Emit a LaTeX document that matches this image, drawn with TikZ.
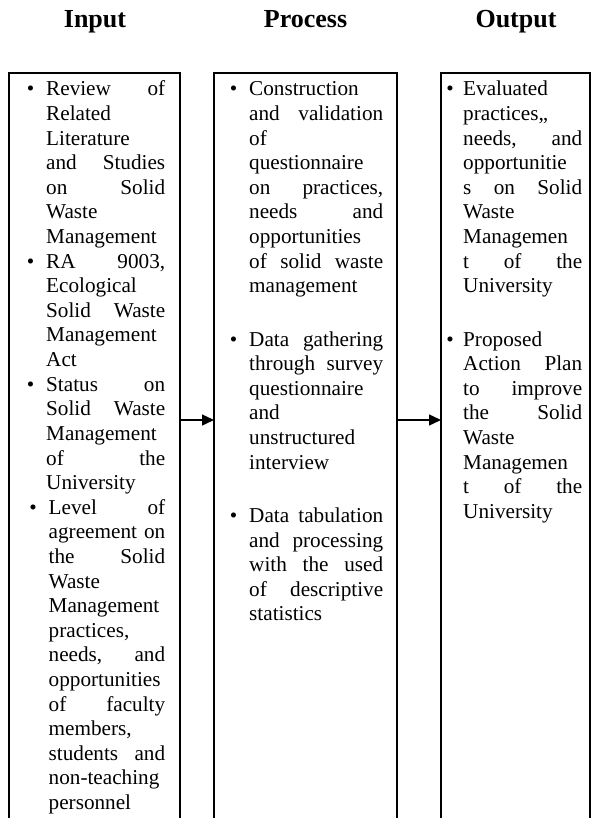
\documentclass[tikz,border=0pt]{standalone}
\usepackage{fontspec}
\setmainfont{Liberation Serif}
\usetikzlibrary{arrows.meta}
\newcommand\jline[1]{\hbox to\cw{#1}}
\newcommand\lline[1]{\hbox to\cw{#1\hfil}}
\newcommand\bul{\llap{\textbullet\hskip\bgap}}
\def\bgap{12pt}
\newcommand\pgap{\vskip 28.7pt}
\tikzset{
  colbox/.style={draw, line width=1.9pt, outer sep=0pt, inner sep=0pt, anchor=north west},
  headtxt/.style={font=\fontsize{26pt}{30pt}\selectfont\bfseries, anchor=base, inner sep=0pt},
  bodytxt/.style={font=\fontsize{21.2pt}{24.6pt}\selectfont, anchor=base west, inner sep=0pt},
  flowarrow/.style={line width=1.4pt, -{Triangle[length=12pt,width=11pt]}}
}
\begin{document}
\begin{tikzpicture}[x=1pt,y=-1pt]
\useasboundingbox (0,0) rectangle (595,818);
% headings
\node[headtxt] (hin) at (95,28) {Input};
\node[headtxt] (hproc) at (305.5,28) {Process};
\node[headtxt] (hout) at (516,28) {Output};
% boxes (open at the bottom: they run past the page)
\node[colbox, minimum width=171pt, minimum height=760pt] (b1) at (9,73) {};
\node[colbox, minimum width=183pt, minimum height=760pt] (b2) at (214,73) {};
\node[colbox, minimum width=149pt, minimum height=760pt] (b3) at (441,73) {};
% input text
\node[bodytxt, text width=119pt] (t1) at (46,96) {\def\cw{119pt}%
\jline{\bul Review\hfill of}
\lline{Related}
\lline{Literature}
\jline{and\hfill Studies}
\jline{on\hfill Solid}
\lline{Waste}
\lline{Management}
\jline{\bul RA\hfill 9003,}
\lline{Ecological}
\jline{Solid\hfill Waste}
\lline{Management}
\lline{Act}
\jline{\bul Status\hfill on}
\jline{Solid\hfill Waste}
\lline{Management}
\jline{of\hfill the}
\lline{University}};
\node[bodytxt, text width=116.5pt] (t1b) at (48.5,514.2) {\def\cw{116.5pt}%
\jline{\bul Level\hfill of}
\jline{agreement\hfill on}
\jline{the\hfill Solid}
\lline{Waste}
\lline{Management}
\lline{practices,}
\jline{needs,\hfill and}
\lline{opportunities}
\jline{of\hfill faculty}
\lline{members,}
\jline{students\hfill and}
\lline{non-teaching}
\lline{personnel}};
% process text
\node[bodytxt, text width=134pt] (t2) at (249,96) {\def\cw{134pt}%
\lline{\bul Construction}
\jline{and\hfill validation}
\lline{of}
\lline{questionnaire}
\jline{on\hfill practices,}
\jline{needs\hfill and}
\lline{opportunities}
\jline{of\hfill solid\hfill waste}
\lline{management}
\pgap
\jline{\bul Data\hfill gathering}
\jline{through\hfill survey}
\lline{questionnaire}
\lline{and}
\lline{unstructured}
\lline{interview}
\pgap
\jline{\bul Data\hfill tabulation}
\jline{and\hfill processing}
\jline{with\hfill the\hfill used}
\jline{of\hfill descriptive}
\lline{statistics}};
% output text
\node[bodytxt, text width=119pt] (t3) at (463,96) {\def\cw{119pt}\def\bgap{9.5pt}%
\lline{\bul Evaluated}
\lline{practices,,}
\jline{needs,\hfill and}
\lline{opportunitie}
\jline{s\hfill on\hfill Solid}
\lline{Waste}
\lline{Managemen}
\jline{t\hfill of\hfill the}
\lline{University}
\pgap
\lline{\bul Proposed}
\jline{Action\hfill Plan}
\jline{to\hfill improve}
\jline{the\hfill Solid}
\lline{Waste}
\lline{Managemen}
\jline{t\hfill of\hfill the}
\lline{University}};
% arrows
\coordinate (ay) at (0,420);
\draw[flowarrow] (b1.east |- ay) -- (b2.west |- ay);
\draw[flowarrow] (b2.east |- ay) -- (b3.west |- ay);
\end{tikzpicture}
\end{document}
